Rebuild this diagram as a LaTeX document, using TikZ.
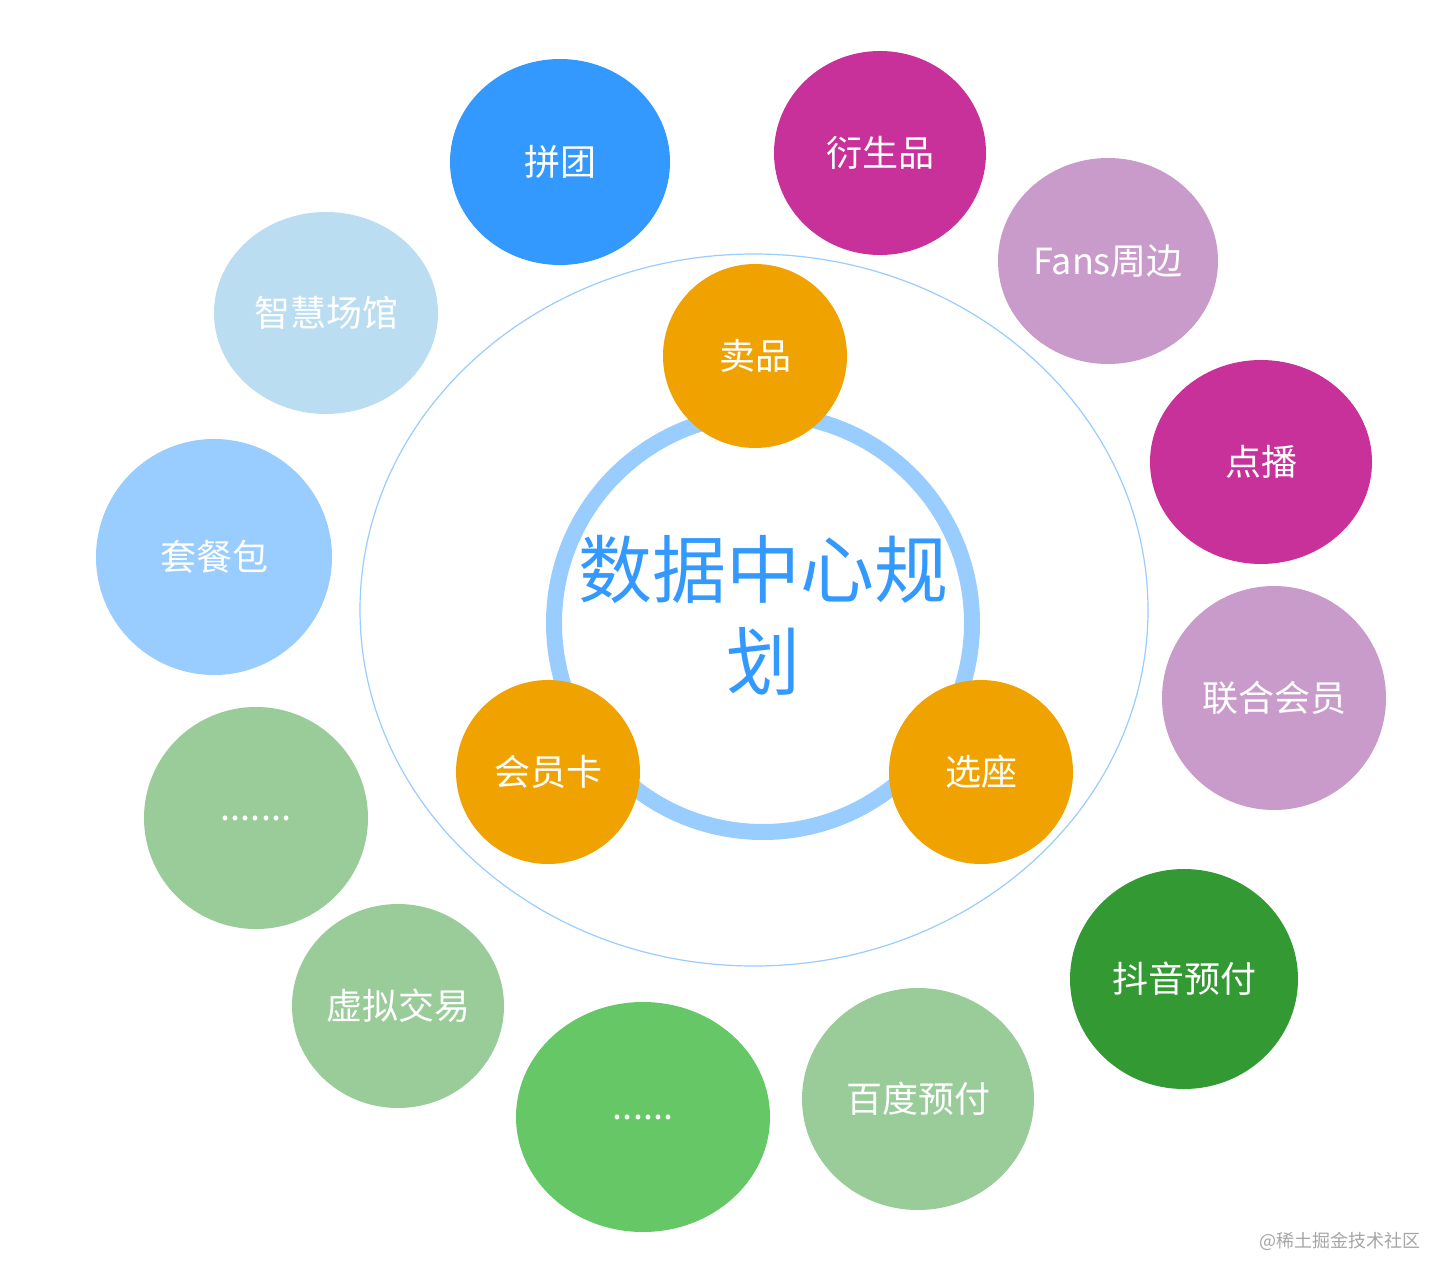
\documentclass[tikz,border=0pt]{standalone}
\usepackage{fontspec}
\setmainfont{Noto Sans CJK SC}
\definecolor{cblue}{HTML}{3399FF}
\definecolor{cmag}{HTML}{C8319A}
\definecolor{clil}{HTML}{C99BCB}
\definecolor{cdg}{HTML}{339933}
\definecolor{clg}{HTML}{99CC99}
\definecolor{cmg}{HTML}{66C766}
\definecolor{clb}{HTML}{99CCFF}
\definecolor{cvlb}{HTML}{BBDDF2}
\definecolor{corg}{HTML}{F0A300}
\newcommand{\sixdots}{{.}{.}{.}{.}{.}{.}}
\newcommand{\sevdots}{{.}{.}{.}{.}{.}{.}{.}}
\begin{document}
\begin{tikzpicture}[x=1pt,y=-1pt]
\useasboundingbox (0,0) rectangle (1456,1284);
\fill[white] (0,0) rectangle (1456,1284);
\draw[clb,line width=1.2pt] (754,610) ellipse [x radius=394,y radius=356];
\draw[clb,line width=16pt] (763,623) circle [radius=209];
\foreach \n/\x/\y/\rx/\ry/\c/\t in {
 a/560/162/110/103/cblue/拼团,
 b/880/153/106/102/cmag/衍生品,
 c/1108/261/110/103/clil/Fans周边,
 d/1261/462/111/102/cmag/点播,
 e/1274/698/112/112/clil/联合会员,
 f/1184/979/114/110/cdg/抖音预付,
 g/918/1099/116/111/clg/百度预付,
 h/643/1117/127/115/cmg/\sixdots,
 i/398/1006/106/102/clg/虚拟交易,
 j/256/818/112/111/clg/\sevdots,
 k/214/557/118/118/clb/套餐包,
 l/326/313/112/101/cvlb/智慧场馆}
{\fill[\c] (\x,\y) ellipse [x radius=\rx,y radius=\ry];
 \node[text=white,font=\fontsize{36}{40}\selectfont] (\n) at (\x,\y) {\t};}
\foreach \n/\x/\y/\t in {m/755/356/卖品, o/548/772/会员卡, p/981/772/选座}
{\fill[corg] (\x,\y) circle [radius=92];
 \node[text=white,font=\fontsize{36}{40}\selectfont] (\n) at (\x,\y) {\t};}
\node[text=cblue,font=\fontsize{74}{92}\selectfont,align=center] (ctr) at (763,615) {数据中心规\\划};
\node[text=gray!70,font=\fontsize{18}{20}\selectfont,anchor=east] (wm) at (1424,1241) {@稀土掘金技术社区};
\end{tikzpicture}
\end{document}
